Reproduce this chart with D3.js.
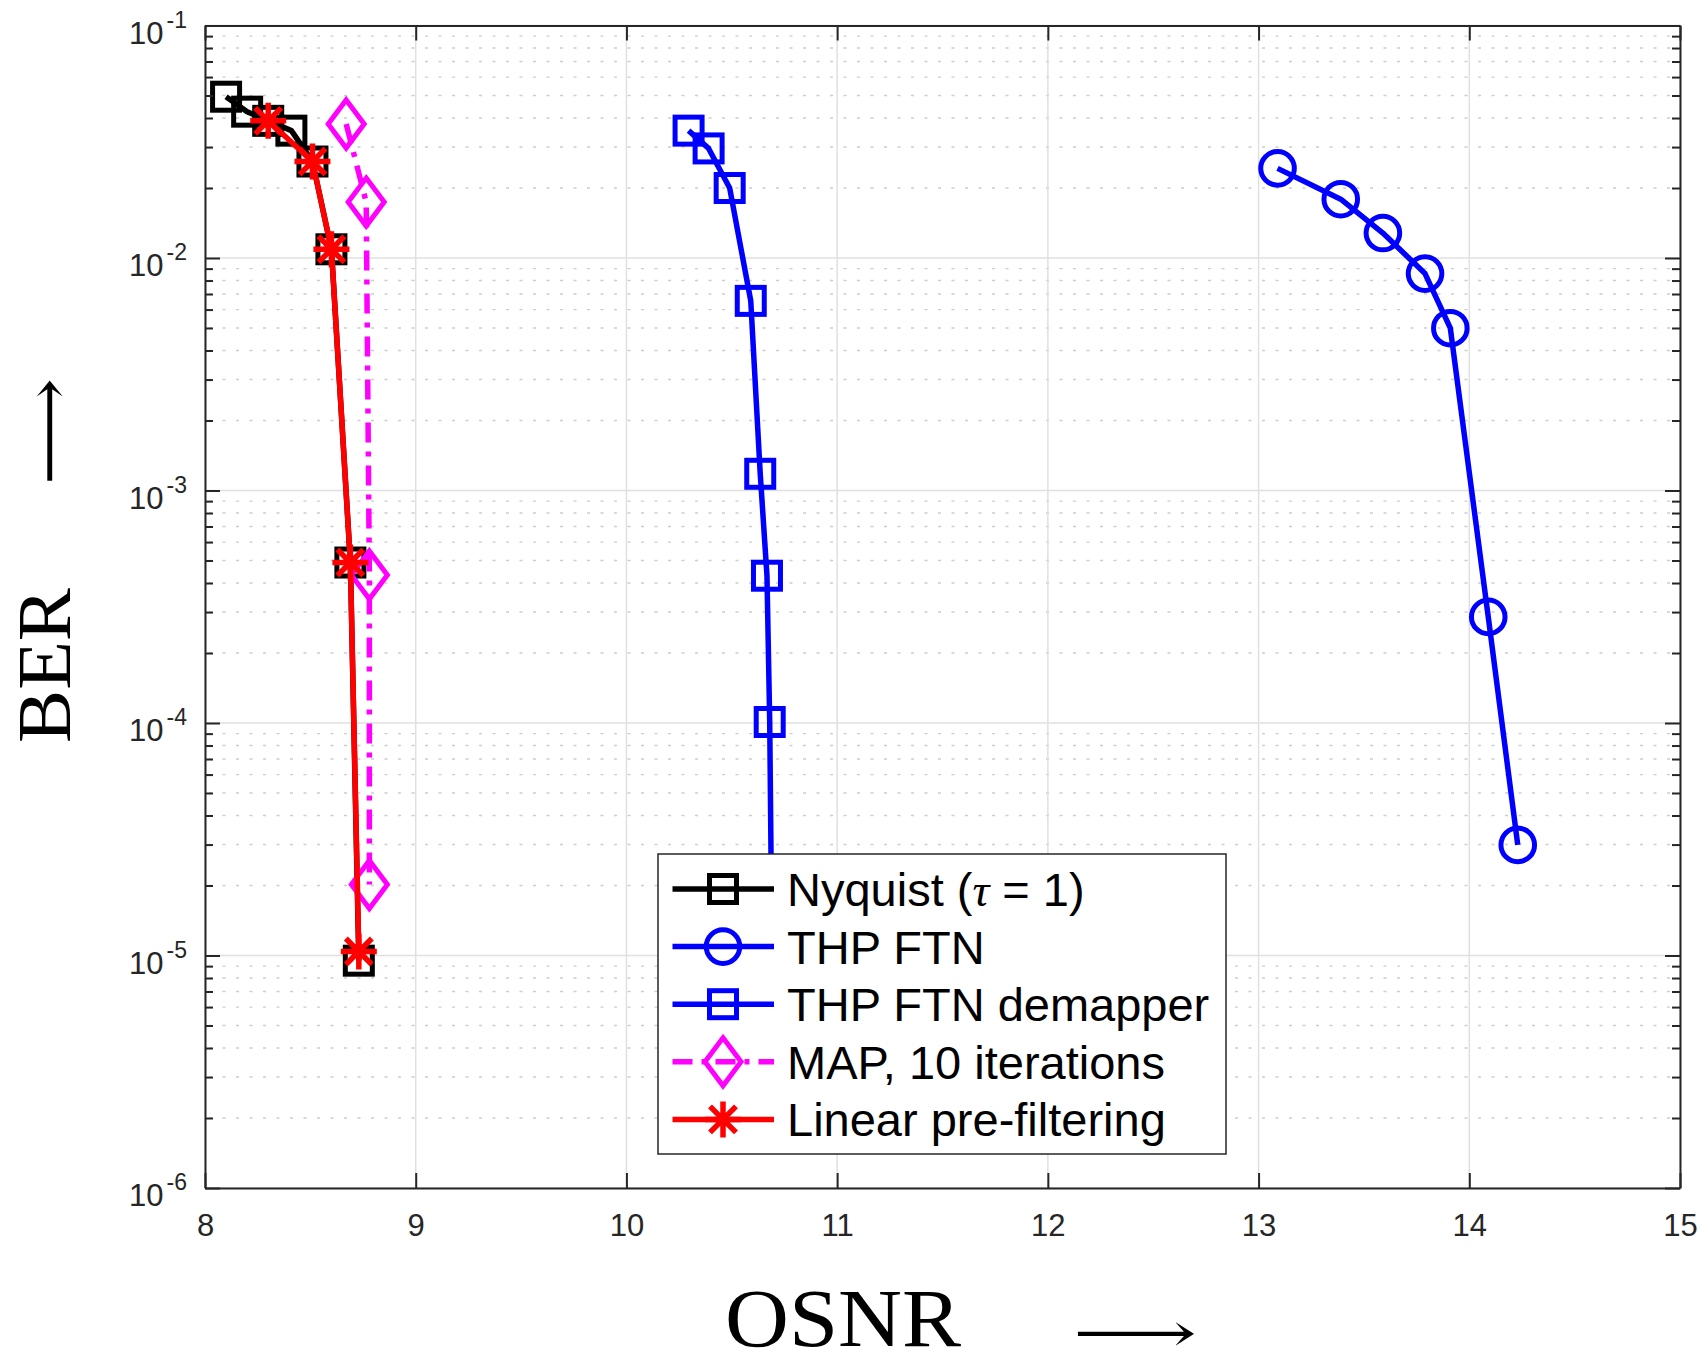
<!DOCTYPE html>
<html>
<head>
<meta charset="utf-8">
<script src="https://cdn.jsdelivr.net/npm/d3@7"></script>
<style>
  html, body { margin: 0; padding: 0; background: #fff; }
  svg { display: block; }
</style>
</head>
<body>
<svg id="chart" width="1703" height="1365"></svg>
<script>
// ---- data ----
const nyquistX = [8.10, 8.20, 8.30, 8.41, 8.51, 8.60, 8.69, 8.73];
const nyquistY = [0.0494, 0.0426, 0.0389, 0.0353, 0.0260, 0.0109, 4.9e-4, 9.5e-6];

const thpX = [13.09, 13.39, 13.59, 13.79, 13.91, 14.09, 14.23];
const thpY = [0.0243, 0.0179, 0.0128, 8.57e-3, 4.99e-3, 2.86e-4, 2.99e-5];

const demapX = [10.295, 10.39, 10.49, 10.59, 10.635, 10.667, 10.68, 10.69];
const demapY = [0.0353, 0.0296, 0.0200, 6.54e-3, 1.18e-3, 4.3e-4, 1.01e-4, 1.2e-5];

const mapX = [8.67, 8.765, 8.78, 8.78];
const mapY = [0.0377, 0.0174, 4.33e-4, 2.02e-5];

const linX = [8.30, 8.51, 8.60, 8.69, 8.73];
const linY = [0.0389, 0.0260, 0.0109, 4.9e-4, 1.04e-5];

const xTickValues = [8, 9, 10, 11, 12, 13, 14, 15];
const yDecadeExponents = [-1, -2, -3, -4, -5, -6];

const seriesList = [
  { name: "Nyquist", xs: nyquistX, ys: nyquistY, color: "#000000", marker: "square", dash: null },
  { name: "THP FTN", xs: thpX, ys: thpY, color: "#0000ff", marker: "circle", dash: null },
  { name: "THP FTN demapper", xs: demapX, ys: demapY, color: "#0000ff", marker: "square", dash: null },
  { name: "MAP, 10 iterations", xs: mapX, ys: mapY, color: "#ff00ff", marker: "diamond", dash: "20,9,5,9" },
  { name: "Linear pre-filtering", xs: linX, ys: linY, color: "#ff0000", marker: "star", dash: null }
];

// ---- layout ----
const L = 205, R = 1680, T = 25.5, B = 1188;
const axisColor = "#262626";
const lineWidth = 5.5;
const markerStroke = 5;

const svg = d3.select("#chart");
const x = d3.scaleLinear().domain([8, 15]).range([L, R]);
const y = d3.scaleLog().domain([1e-6, 1e-1]).range([B, T]);

// minor decade positions
const minorVals = [];
for (let e = -6; e < -1; e++) {
  for (let m = 2; m <= 9; m++) minorVals.push(m * Math.pow(10, e));
}
const decadeVals = yDecadeExponents.map(e => Math.pow(10, e));

// ---- grid ----
const grid = svg.append("g");
grid.selectAll(".gminor").data(minorVals).enter().append("line")
  .attr("x1", L + 4).attr("x2", R)
  .attr("y1", d => y(d)).attr("y2", d => y(d))
  .attr("stroke", "#cdcdcd").attr("stroke-width", 1.4)
  .attr("stroke-dasharray", "3,10.5");
grid.selectAll(".gmajy").data(decadeVals).enter().append("line")
  .attr("x1", L).attr("x2", R)
  .attr("y1", d => y(d)).attr("y2", d => y(d))
  .attr("stroke", "#e0e0e0").attr("stroke-width", 1.5);
grid.selectAll(".gmajx").data(xTickValues).enter().append("line")
  .attr("x1", d => x(d)).attr("x2", d => x(d))
  .attr("y1", T).attr("y2", B)
  .attr("stroke", "#e0e0e0").attr("stroke-width", 1.5);

// ---- data series ----
function drawMarker(g, type, color) {
  const sw = markerStroke;
  if (type === "square") {
    g.append("rect").attr("x", -13.5).attr("y", -13.5).attr("width", 27).attr("height", 27)
      .attr("fill", "none").attr("stroke", color).attr("stroke-width", sw);
  } else if (type === "circle") {
    g.append("circle").attr("r", 16.8).attr("fill", "none")
      .attr("stroke", color).attr("stroke-width", sw);
  } else if (type === "diamond") {
    g.append("path").attr("d", "M0,-24L18,0L0,24L-18,0Z").attr("fill", "none")
      .attr("stroke", color).attr("stroke-width", sw).attr("stroke-linejoin", "miter");
  } else if (type === "star") {
    const a = 18, b = 13;
    g.append("path")
      .attr("d", `M${-a},0L${a},0M0,${-a}L0,${a}M${-b},${-b}L${b},${b}M${-b},${b}L${b},${-b}`)
      .attr("stroke", color).attr("stroke-width", 5.5).attr("fill", "none");
  }
}

const lineGen = d3.line().x(d => x(d[0])).y(d => y(d[1]));
const plot = svg.append("g");
seriesList.forEach(s => {
  const pts = s.xs.map((v, i) => [v, s.ys[i]]);
  const g = plot.append("g");
  g.append("path").datum(pts).attr("d", lineGen)
    .attr("fill", "none").attr("stroke", s.color).attr("stroke-width", lineWidth)
    .attr("stroke-linejoin", "round")
    .attr("stroke-dasharray", s.dash);
  pts.forEach(p => {
    const mg = g.append("g").attr("transform", `translate(${x(p[0])},${y(p[1])})`);
    drawMarker(mg, s.marker, s.color);
  });
});

// ---- axes ----
const xBottom = d3.axisBottom(x).tickValues(xTickValues).tickSizeInner(-15).tickSizeOuter(0)
  .tickPadding(26).tickFormat(d3.format("d"));
const gx = svg.append("g").attr("transform", `translate(0,${B})`).call(xBottom);
gx.select(".domain").attr("stroke", axisColor).attr("stroke-width", 2);
gx.selectAll(".tick line").attr("stroke", axisColor).attr("stroke-width", 2);
gx.selectAll(".tick text").attr("fill", axisColor)
  .attr("font-family", "'Liberation Sans', Arial, Helvetica, sans-serif").attr("font-size", 31);

const xTop = d3.axisTop(x).tickValues(xTickValues).tickSizeInner(-15).tickSizeOuter(0).tickFormat("");
const gxt = svg.append("g").attr("transform", `translate(0,${T})`).call(xTop);
gxt.select(".domain").attr("stroke", axisColor).attr("stroke-width", 2);
gxt.selectAll(".tick line").attr("stroke", axisColor).attr("stroke-width", 2);

function yAxisSide(axisFn, tx) {
  const major = axisFn(y).tickValues(decadeVals).tickSizeInner(-15).tickSizeOuter(0).tickFormat("");
  const g = svg.append("g").attr("transform", `translate(${tx},0)`).call(major);
  g.select(".domain").attr("stroke", axisColor).attr("stroke-width", 2);
  g.selectAll(".tick line").attr("stroke", axisColor).attr("stroke-width", 2);
  const minor = axisFn(y).tickValues(minorVals).tickSizeInner(-8).tickSizeOuter(0).tickFormat("");
  const gm = svg.append("g").attr("transform", `translate(${tx},0)`).call(minor);
  gm.select(".domain").remove();
  gm.selectAll(".tick line").attr("stroke", axisColor).attr("stroke-width", 2);
}
yAxisSide(d3.axisLeft, L);
yAxisSide(d3.axisRight, R);

// y tick labels: 10 with superscript exponent
const ylab = svg.append("g")
  .attr("font-family", "'Liberation Sans', Arial, Helvetica, sans-serif").attr("fill", axisColor);
yDecadeExponents.forEach(e => {
  const py = y(Math.pow(10, e));
  const t = ylab.append("text").attr("x", 187).attr("y", py + 18)
    .attr("text-anchor", "end").attr("font-size", 31);
  t.append("tspan").text("10");
  t.append("tspan").attr("font-size", 23).attr("dx", 3).attr("dy", -16).text(String(e));
});

// ---- axis titles ----
svg.append("text").attr("x", 725).attr("y", 1346)
  .attr("font-family", "'Liberation Serif', 'Times New Roman', serif").attr("font-size", 82)
  .attr("textLength", 236).attr("lengthAdjust", "spacingAndGlyphs")
  .attr("fill", "#000").text("OSNR");
svg.append("text").attr("x", 1073).attr("y", 1352)
  .attr("font-family", "'DejaVu Serif', 'DejaVu Sans', serif").attr("font-size", 56)
  .attr("textLength", 124).attr("lengthAdjust", "spacingAndGlyphs")
  .attr("fill", "#000").text("\u27F6");

svg.append("text").attr("transform", "translate(70,665.5) rotate(-90)")
  .attr("text-anchor", "middle")
  .attr("font-family", "'Liberation Serif', 'Times New Roman', serif").attr("font-size", 76)
  .attr("textLength", 155).attr("lengthAdjust", "spacingAndGlyphs")
  .attr("fill", "#000").text("BER");
svg.append("text").attr("transform", "translate(70,431.5) rotate(-90)")
  .attr("text-anchor", "middle")
  .attr("font-family", "'DejaVu Serif', 'DejaVu Sans', serif").attr("font-size", 62)
  .attr("textLength", 107).attr("lengthAdjust", "spacingAndGlyphs")
  .attr("fill", "#000").text("\u27F6");

// ---- legend ----
const lg = svg.append("g");
lg.append("rect").attr("x", 658).attr("y", 854).attr("width", 568).attr("height", 300)
  .attr("fill", "#fff").attr("stroke", axisColor).attr("stroke-width", 1.5);
seriesList.forEach((s, i) => {
  const ry = 889 + i * 57.6;
  lg.append("line").attr("x1", 672.5).attr("x2", 774).attr("y1", ry).attr("y2", ry)
    .attr("stroke", s.color).attr("stroke-width", lineWidth).attr("stroke-dasharray", s.dash);
  const mg = lg.append("g").attr("transform", `translate(723,${ry})`);
  drawMarker(mg, s.marker, s.color);
  const t = lg.append("text").attr("x", 787).attr("y", ry + 17)
    .attr("font-family", "'Liberation Sans', Arial, Helvetica, sans-serif")
    .attr("font-size", 47).attr("fill", "#000");
  if (i === 0) {
    t.append("tspan").text("Nyquist (");
    t.append("tspan").attr("font-family", "'Liberation Serif', 'Times New Roman', serif")
      .attr("font-style", "italic").text("\u03C4");
    t.append("tspan").text(" = 1)");
  } else {
    t.text(s.name);
  }
});
</script>
</body>
</html>
